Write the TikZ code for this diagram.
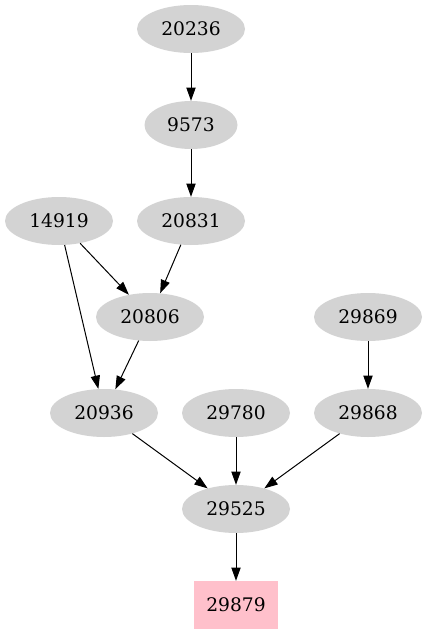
\documentclass[tikz,border=0pt]{standalone}
\usepackage{fontspec}
\setmainfont{DejaVu Serif}
\usetikzlibrary{shapes.geometric,arrows.meta}
\definecolor{lgrayc}{HTML}{D3D3D3}
\definecolor{pinkc}{HTML}{FFC0CB}
\begin{document}
\begin{tikzpicture}[x=1pt,y=-1pt,
  gnode/.style={ellipse, fill=lgrayc, draw=none, minimum width=108pt, minimum height=48pt, inner sep=0pt, font=\fontsize{18.67}{22}\selectfont},
  pnode/.style={rectangle, fill=pinkc, draw=none, minimum width=84pt, minimum height=48pt, inner sep=0pt, font=\fontsize{18.67}{22}\selectfont},
  conn/.style={-{Triangle[length=13.3pt,width=9.3pt]}, line width=1pt, black}]
\useasboundingbox (0,0) rectangle (427,635);
\node[gnode] (n20236) at (191,29) {20236};
\node[gnode, minimum width=93pt] (n9573) at (191,125) {9573};
\node[gnode] (n14919) at (59,221) {14919};
\node[gnode] (n20831) at (191,221) {20831};
\node[gnode] (n20806) at (150,317) {20806};
\node[gnode] (n29869) at (368,317) {29869};
\node[gnode] (n20936) at (104,413) {20936};
\node[gnode] (n29780) at (236,413) {29780};
\node[gnode] (n29868) at (368,413) {29868};
\node[gnode] (n29525) at (236,509) {29525};
\node[pnode] (n29879) at (236,605) {29879};
\draw[conn] (n20236) -- (n9573);
\draw[conn] (n9573) -- (n20831);
\draw[conn] (n14919) -- (n20806);
\draw[conn] (n14919) -- (n20936);
\draw[conn] (n20831) -- (n20806);
\draw[conn] (n20806) -- (n20936);
\draw[conn] (n29869) -- (n29868);
\draw[conn] (n20936) -- (n29525);
\draw[conn] (n29780) -- (n29525);
\draw[conn] (n29868) -- (n29525);
\draw[conn] (n29525) -- (n29879);
\end{tikzpicture}
\end{document}
